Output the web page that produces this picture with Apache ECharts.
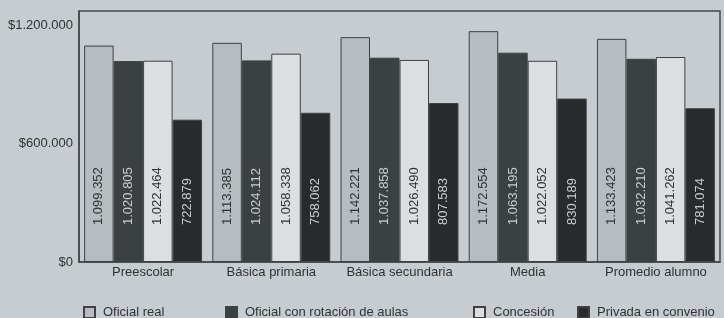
<!DOCTYPE html>
<html>
<head>
<meta charset="utf-8">
<script src="https://cdn.jsdelivr.net/npm/echarts@6/dist/echarts.min.js"></script>
<style>
  html, body { margin: 0; padding: 0; background: #c7ccd0; }
  #chart { width: 724px; height: 318px; }
</style>
</head>
<body>
<div id="chart"></div>
<script>
var categories = ['Preescolar', 'Básica primaria', 'Básica secundaria', 'Media', 'Promedio alumno'];
var seriesNames = ['Oficial real', 'Oficial con rotación de aulas', 'Concesión', 'Privada en convenio'];
var oficialReal = [1099352, 1113385, 1142221, 1172554, 1133423];
var oficialRotacion = [1020805, 1024112, 1037858, 1063195, 1032210];
var concesion = [1022464, 1058338, 1026490, 1022052, 1041262];
var privadaConvenio = [722879, 758062, 807583, 830189, 781074];
var yTicks = [0, 600000, 1200000];

var fills = ['#b7bcc0', '#3b4040', '#dcdfe1', '#272b2b'];
var labelColors = ['#2e3234', '#c9cdcf', '#2e3234', '#c9cdcf'];
var values = [oficialReal, oficialRotacion, concesion, privadaConvenio];

function miles(v) {
    return String(v).replace(/\B(?=(\d{3})+(?!\d))/g, '.');
}

var chart = echarts.init(document.getElementById('chart'));

var series = [];
for (var i = 0; i < values.length; i++) {
    series.push({
        name: seriesNames[i],
        type: 'bar',
        data: values[i],
        barGap: '0%',
        barCategoryGap: '8%',
        itemStyle: { color: fills[i], borderColor: '#3e4246', borderWidth: 1 },
        label: {
            show: true,
            position: 'insideBottom',
            distance: 37,
            rotate: 90,
            align: 'left',
            verticalAlign: 'middle',
            color: labelColors[i],
            fontFamily: 'Liberation Sans',
            fontSize: 13,
            formatter: function (p) { return miles(p.value); }
        }
    });
}

var legendLeft = [78, 220, 468, 572];
var legends = [];
for (var j = 0; j < seriesNames.length; j++) {
    legends.push({
        data: [{ name: seriesNames[j], icon: 'rect' }],
        left: legendLeft[j],
        top: 301,
        itemWidth: 11,
        itemHeight: 11,
        itemGap: 0,
        textStyle: { fontFamily: 'Liberation Sans', fontSize: 13, color: '#2e3234', padding: [0, 0, 0, 3] },
        selectedMode: false
    });
}

chart.setOption({
    animation: false,
    backgroundColor: '#c7ccd0',
    legend: legends,
    grid: {
        left: 79, right: 4, top: 11, bottom: 56,
        show: true,
        borderColor: '#44484c',
        borderWidth: 1.5,
        backgroundColor: 'transparent'
    },
    xAxis: {
        type: 'category',
        data: categories,
        axisTick: { show: false },
        axisLine: { lineStyle: { color: '#44484c', width: 1.5 } },
        axisLabel: { interval: 0, fontFamily: 'Liberation Sans', fontSize: 13, color: '#2e3234', margin: 4 }
    },
    yAxis: {
        type: 'value',
        min: 0,
        max: 1275000,
        interval: 600000,
        splitLine: { show: false },
        axisLine: { show: true, lineStyle: { color: '#44484c', width: 1.5 } },
        axisTick: { show: false },
        axisLabel: {
            showMaxLabel: false,
            fontFamily: 'Liberation Sans',
            fontSize: 13,
            color: '#2e3234',
            margin: 6,
            formatter: function (v) { return yTicks.indexOf(v) >= 0 ? '$' + miles(v) : ''; }
        }
    },
    series: series
});
</script>
</body>
</html>
